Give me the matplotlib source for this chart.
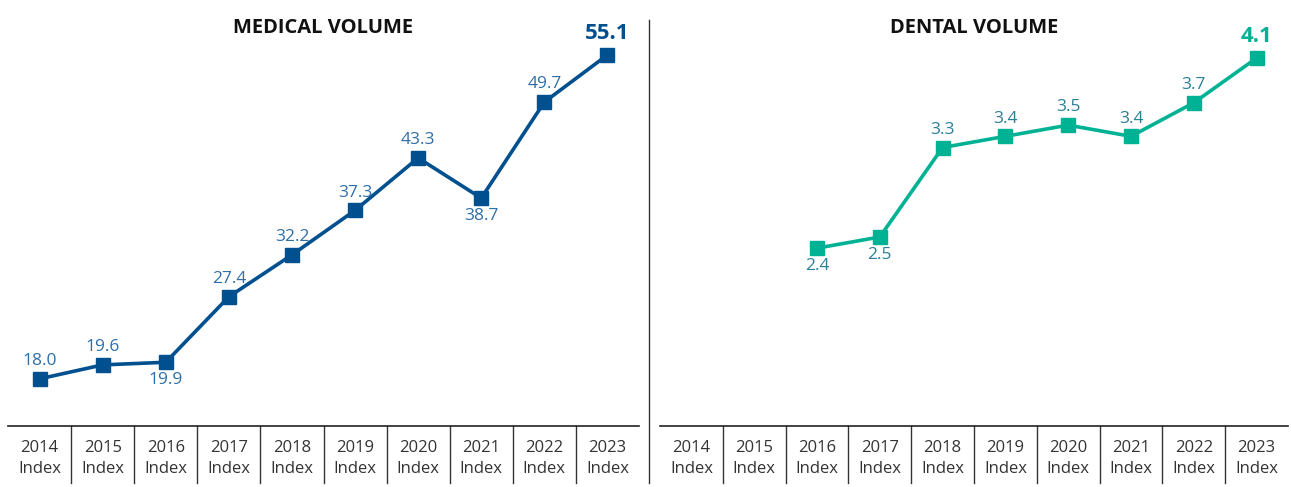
import matplotlib
matplotlib.use("Agg")
import matplotlib.pyplot as plt
from matplotlib.lines import Line2D
from matplotlib.transforms import blended_transform_factory

plt.rcParams['font.family'] = ['Open Sans', 'DejaVu Sans']

years = ["2014", "2015", "2016", "2017", "2018", "2019", "2020", "2021", "2022", "2023"]
medical = [18.0, 19.6, 19.9, 27.4, 32.2, 37.3, 43.3, 38.7, 49.7, 55.1]
medical_pos = ["above", "above", "below", "above", "above", "above", "above", "below", "above", "above"]
dental_years = ["2016", "2017", "2018", "2019", "2020", "2021", "2022", "2023"]
dental = [2.4, 2.5, 3.3, 3.4, 3.5, 3.4, 3.7, 4.1]
dental_pos = ["below", "below", "above", "above", "above", "above", "above", "above"]

W, H = 1291, 487
fig = plt.figure(figsize=(W / 100, H / 100), dpi=100)


def px_axes(x0, x1, ytop, ybot):
    return fig.add_axes([x0 / W, (H - ybot) / H, (x1 - x0) / W, (ybot - ytop) / H])


def panel(ax, xs_labels, vals, pos, title, line_c, label_c, ylim):
    x = [years.index(y) for y in xs_labels]
    ax.plot(x, vals, color=line_c, lw=2.6, marker='s', ms=10, zorder=3, clip_on=False)
    ax.set_xlim(-0.5, len(years) - 0.5)
    ax.set_ylim(*ylim)
    for s in ['top', 'right', 'left']:
        ax.spines[s].set_visible(False)
    ax.spines['bottom'].set_color('#222222')
    ax.spines['bottom'].set_linewidth(1.2)
    ax.set_xticks([])
    ax.set_yticks([])
    ax.patch.set_alpha(0)
    n = len(vals)
    for i, (xi, v, p) in enumerate(zip(x, vals, pos)):
        last = i == n - 1
        if last:
            ax.annotate(f"{v:.1f}", (xi, v), xytext=(0, 8), textcoords='offset points',
                        ha='center', va='bottom', fontsize=16, fontweight='bold', color=line_c)
        elif p == "above":
            ax.annotate(f"{v:.1f}", (xi, v), xytext=(0, 7), textcoords='offset points',
                        ha='center', va='bottom', fontsize=12.5, color=label_c)
        else:
            ax.annotate(f"{v:.1f}", (xi, v), xytext=(0, -7), textcoords='offset points',
                        ha='center', va='top', fontsize=12.5, color=label_c)
    tr = blended_transform_factory(ax.transData, ax.transAxes)
    hax = ax.get_position().height * H
    for i, y in enumerate(years):
        ax.text(i, -22 / hax, y, transform=tr, ha='center', va='center', fontsize=12, color='#333333')
        ax.text(i, -43 / hax, "Index", transform=tr, ha='center', va='center', fontsize=12, color='#333333')
    for i in range(len(years) - 1):
        ax.add_line(Line2D([i + 0.5, i + 0.5], [0, -57 / hax], transform=tr, color='#333333',
                           lw=1.0, clip_on=False))
    ax.text(0.5, (406 - 8) / 406, title, transform=ax.transAxes, ha='center', va='center',
            fontsize=14.5, fontweight='bold', color='#111111')


axL = px_axes(8, 639, 20, 426)
axR = px_axes(660, 1288, 20, 426)

panel(axL, years, medical, medical_pos, "MEDICAL VOLUME", '#00508f', '#2f6ea8', (12.6, 59.1))
panel(axR, dental_years, dental, dental_pos, "DENTAL VOLUME", '#00b294', '#2a7f96', (0.81, 4.44))

fig.add_artist(Line2D([649 / W, 649 / W], [(H - 20) / H, (H - 483) / H], color='#333333', lw=1.0))

fig.savefig("out.png", dpi=100, facecolor='white')
